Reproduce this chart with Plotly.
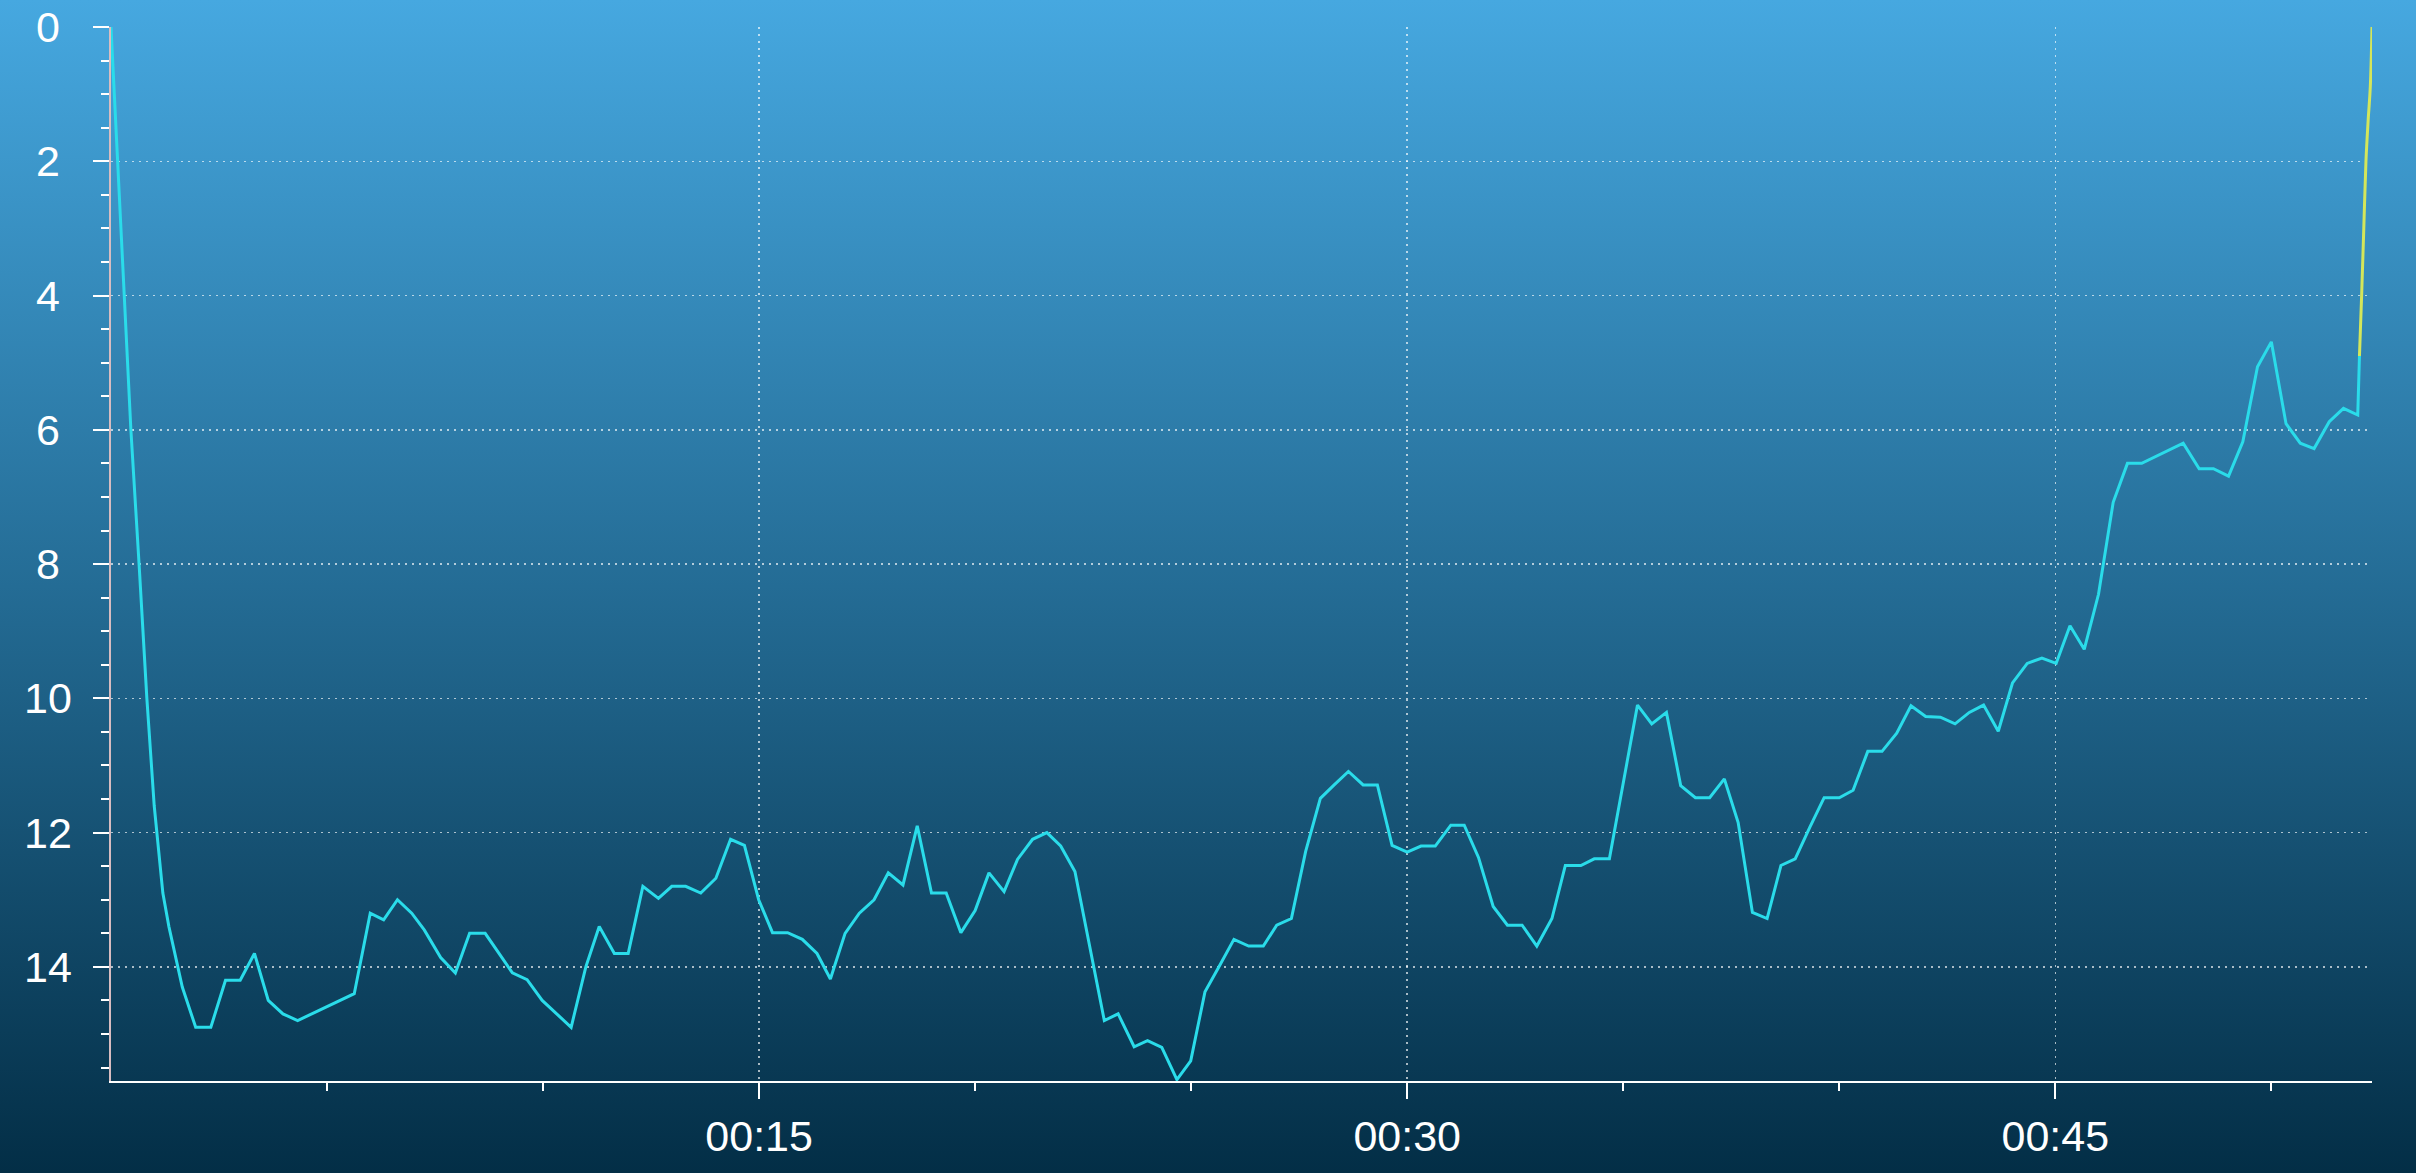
import base64
import plotly.graph_objects as go

# ---------------- data ----------------
time_min = [0, 0.15, 0.30, 0.46, 0.65, 0.83, 1.0, 1.2, 1.34, 1.65, 1.96, 2.31, 2.65, 2.99,
            3.32, 3.64, 3.98, 4.32, 5.63, 6.0, 6.31, 6.63, 6.96, 7.25, 7.63, 7.97, 8.3, 8.66,
            8.98, 9.29, 9.63, 9.98, 10.65, 10.99, 11.3, 11.65, 11.97, 12.31, 12.67, 12.98,
            13.30, 13.65, 14.0, 14.34, 14.66, 14.99, 15.31, 15.66, 16.0, 16.34, 16.65, 16.99,
            17.32, 17.66, 17.99, 18.33, 18.66, 18.99, 19.33, 19.67, 20.0, 20.32, 20.67, 20.98,
            21.33, 21.66, 21.98, 22.31, 22.99, 23.31, 23.68, 23.99, 24.32, 24.67, 24.99, 25.32,
            25.65, 25.99, 26.33, 26.67, 26.98, 27.32, 27.65, 27.99, 28.31, 28.64, 28.98, 29.31,
            29.65, 30.0, 30.32, 30.65, 31.01, 31.32, 31.65, 31.99, 32.32, 32.66, 33.0, 33.35,
            33.66, 34.02, 34.33, 34.68, 35.33, 35.66, 36.0, 36.33, 36.67, 37.0, 37.34, 37.66,
            37.99, 38.33, 38.65, 38.98, 39.32, 39.65, 40.0, 40.32, 40.66, 40.99, 41.33, 41.66,
            42.0, 42.34, 42.68, 43.01, 43.34, 43.68, 44.01, 44.35, 44.69, 45.02, 45.34, 45.67,
            46.0, 46.34, 46.67, 47.0, 47.96, 48.33, 48.66, 49.01, 49.34, 49.68, 50.0, 50.34,
            50.67, 50.99, 51.34, 51.67, 52.0, 52.04]
depth_m = [0, 2.0, 4.0, 6.0, 8.0, 10.0, 11.6, 12.9, 13.4, 14.3, 14.9, 14.9, 14.2, 14.2,
           13.8, 14.5, 14.7, 14.8, 14.4, 13.2, 13.3, 13.0, 13.2, 13.45, 13.86, 14.09, 13.5, 13.5,
           13.8, 14.09, 14.19, 14.5, 14.9, 14.0, 13.4, 13.8, 13.8, 12.8, 12.98, 12.8,
           12.8, 12.9, 12.68, 12.1, 12.19, 13.0, 13.49, 13.49, 13.59, 13.8, 14.18, 13.5,
           13.2, 13.0, 12.6, 12.78, 11.9, 12.9, 12.9, 13.49, 13.16, 12.6, 12.88, 12.4,
           12.1, 12.0, 12.2, 12.58, 14.8, 14.7, 15.19, 15.1, 15.2, 15.68, 15.4, 14.37,
           13.99, 13.59, 13.69, 13.69, 13.38, 13.28, 12.28, 11.49, 11.29, 11.09, 11.29, 11.29,
           12.19, 12.29, 12.2, 12.2, 11.89, 11.89, 12.37, 13.1, 13.38, 13.38, 13.69, 13.28,
           12.49, 12.49, 12.39, 12.39, 10.1, 10.38, 10.21, 11.3, 11.48, 11.48, 11.2, 11.85,
           13.19, 13.28, 12.49, 12.39, 11.92, 11.48, 11.48, 11.37, 10.79, 10.79, 10.52, 10.11,
           10.27, 10.28, 10.38, 10.21, 10.1, 10.49, 9.77, 9.48, 9.4, 9.48, 8.92, 9.27,
           8.45, 7.08, 6.5, 6.5, 6.2, 6.58, 6.58, 6.69, 6.18, 5.06, 4.69, 5.91,
           6.2, 6.28, 5.88, 5.68, 5.78, 4.9]

ascent_time_min = [52.04, 52.09, 52.14, 52.19, 52.24, 52.29, 52.33]
ascent_depth_m = [4.9, 4.0, 3.0, 2.0, 1.4, 0.9, 0.0]

x_tick_vals = [15, 30, 45]
x_tick_text = ["00:15", "00:30", "00:45"]
x_minor_vals = [5, 10, 20, 25, 35, 40, 50]
x_top_vals = [5, 10, 15, 20, 25, 30, 35, 40, 45, 50]
y_tick_vals = [0, 2, 4, 6, 8, 10, 12, 14]
y_tick_text = ["0", "2", "4", "6", "8", "10", "12", "14"]
y_minor_vals = [v / 2 for v in range(1, 32) if v % 4 != 0]

assert len(time_min) == len(depth_m)

X_RANGE = [0, 52.33]
Y_RANGE = [15.7, 0]

# ---------------- geometry ----------------
W, H = 2416, 1173
ML, MR, MT, MB = 111, 44, 27, 92
PW, PH = W - ML - MR, H - MT - MB

WHITE = "#FFFFFF"
GRID = "rgba(255,255,255,0.65)"
FONT = "Liberation Sans, Arial, sans-serif"

svg = (
    '<svg xmlns="http://www.w3.org/2000/svg" width="100" height="100" preserveAspectRatio="none">'
    '<defs><linearGradient id="g" x1="0" y1="0" x2="0" y2="1">'
    '<stop offset="0" stop-color="#46A8E0"/>'
    '<stop offset="0.5" stop-color="#246C95"/>'
    '<stop offset="1" stop-color="#032E46"/>'
    '</linearGradient></defs>'
    '<rect width="100" height="100" fill="url(#g)"/></svg>'
)
bg_uri = "data:image/svg+xml;base64," + base64.b64encode(svg.encode()).decode()

fig = go.Figure()
fig.add_trace(go.Scatter(x=time_min, y=depth_m, mode="lines",
                         line=dict(color="#2ADCEA", width=3), hoverinfo="skip"))
fig.add_trace(go.Scatter(x=ascent_time_min, y=ascent_depth_m, mode="lines",
                         line=dict(color="#D4E65A", width=3, shape="spline"),
                         hoverinfo="skip"))

minor_common = dict(tickcolor=WHITE, tickwidth=2, showgrid=False, ticklen=8)

fig.update_layout(
    width=W, height=H,
    margin=dict(l=ML, r=MR, t=MT, b=MB, pad=0),
    paper_bgcolor="#1F6288",
    plot_bgcolor="rgba(0,0,0,0)",
    showlegend=False,
    images=[dict(source=bg_uri, xref="paper", yref="paper",
                 x=-ML / PW, y=1 + MT / PH, sizex=W / PW, sizey=H / PH,
                 xanchor="left", yanchor="top", sizing="stretch", layer="below")],
    xaxis=dict(
        range=X_RANGE, autorange=False, side="bottom",
        tickmode="array", tickvals=x_tick_vals, ticktext=x_tick_text,
        ticks="outside", ticklen=16, tickwidth=2, tickcolor=WHITE,
        tickfont=dict(family=FONT, size=43, color=WHITE),
        showline=True, linecolor=WHITE, linewidth=2,
        showgrid=True, gridcolor=GRID, gridwidth=1.5, griddash="2px,5px",
        zeroline=False,
        minor=dict(tickmode="array", tickvals=x_minor_vals, ticks="outside", **minor_common),
    ),
    xaxis2=dict(
        range=X_RANGE, autorange=False, overlaying="x", anchor="y", side="bottom",
        tickmode="array", tickvals=x_tick_vals, showticklabels=False,
        ticks="inside", ticklen=16, tickwidth=2, tickcolor=WHITE,
        showline=False, showgrid=False, zeroline=False,
        minor=dict(tickmode="array", tickvals=x_minor_vals, ticks="inside", **minor_common),
    ),
    xaxis3=dict(
        range=X_RANGE, autorange=False, overlaying="x", anchor="y", side="top",
        tickmode="array", tickvals=x_top_vals, showticklabels=False,
        ticks="inside", ticklen=8, tickwidth=2, tickcolor=WHITE,
        showline=True, linecolor=WHITE, linewidth=2,
        showgrid=False, zeroline=False,
    ),
    yaxis=dict(
        range=Y_RANGE, autorange=False, side="left",
        tickmode="array", tickvals=y_tick_vals, showticklabels=False,
        ticks="outside", ticklen=16, tickwidth=2, tickcolor=WHITE,
        showline=True, linecolor="#D8BCC0", linewidth=2,
        showgrid=True, gridcolor=GRID, gridwidth=1.5, griddash="2px,5px",
        zeroline=False,
        minor=dict(tickmode="array", tickvals=y_minor_vals, ticks="outside", **minor_common),
    ),
    yaxis2=dict(
        range=Y_RANGE, autorange=False, overlaying="y", anchor="x", side="left",
        tickmode="array", tickvals=y_tick_vals, showticklabels=False,
        ticks="inside", ticklen=16, tickwidth=2, tickcolor=WHITE,
        showline=False, showgrid=False, zeroline=False,
        minor=dict(tickmode="array", tickvals=y_minor_vals, ticks="inside", **minor_common),
    ),
    yaxis3=dict(
        range=Y_RANGE, autorange=False, overlaying="y", anchor="x", side="right",
        tickmode="array", tickvals=y_tick_vals, showticklabels=False,
        ticks="inside", ticklen=16, tickwidth=2, tickcolor=WHITE,
        showline=True, linecolor=WHITE, linewidth=2,
        showgrid=False, zeroline=False,
        minor=dict(tickmode="array", tickvals=y_minor_vals, ticks="inside", **minor_common),
    ),
)

# y tick labels, centred in the left margin like the reference
for v, t in zip(y_tick_vals, y_tick_text):
    fig.add_annotation(x=-(ML - 48) / PW, xref="paper", y=v, yref="y",
                       text=t, showarrow=False, xanchor="center", yanchor="middle",
                       font=dict(family=FONT, size=43, color=WHITE))

fig.write_html(
    "out.html",
    config={"displayModeBar": False, "staticPlot": True},
    post_script="document.body.style.margin='0';document.body.style.overflow='hidden';",
)
